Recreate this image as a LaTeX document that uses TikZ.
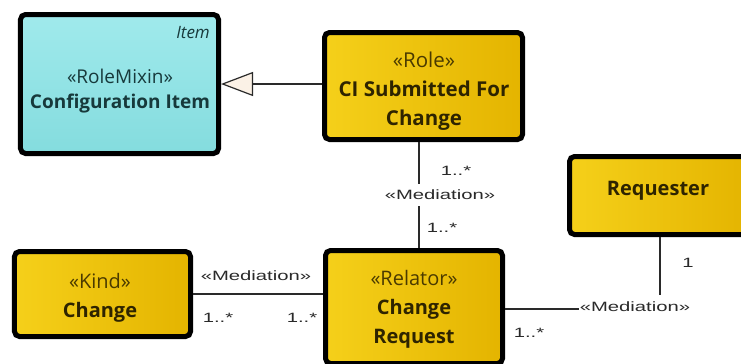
\documentclass[tikz,border=0pt]{standalone}
\usepackage{fontspec}
\setmainfont{Open Sans}
\newfontfamily\lblfont[FakeStretch=1.5]{Liberation Sans}
\usetikzlibrary{arrows.meta,shadows}

\definecolor{yelA}{HTML}{F5D01A}
\definecolor{yelB}{HTML}{E4B400}
\definecolor{cyaA}{HTML}{A0EAEC}
\definecolor{cyaB}{HTML}{84DCDE}
\definecolor{ytext}{HTML}{2E2400}
\definecolor{ystereo}{HTML}{4A3A00}
\definecolor{ctext}{HTML}{17393B}
\definecolor{genfill}{HTML}{FBF1E6}
\definecolor{wire}{HTML}{2A2A2A}

\tikzset{
  umlbox/.style={draw=black, line width=5bp, rounded corners=5bp, inner sep=0pt,
    drop shadow={shadow xshift=2bp, shadow yshift=-2bp, opacity=0.25}},
  yellowbox/.style={umlbox, left color=yelA, right color=yelB},
  cyanbox/.style={umlbox, top color=cyaA, bottom color=cyaB},
  boxtext/.style={align=center, inner sep=0pt, text=ytext,
    font=\fontsize{20bp}{29bp}\selectfont},
  conn/.style={draw=wire, line width=1.2bp},
  lbl/.style={inner sep=1bp, text=wire, font=\lblfont\fontsize{13.5bp}{15bp}\selectfont},
}

\newcommand{\stereo}[1]{{\color{ystereo}\guillemotleft#1\guillemotright}}

\begin{document}
\begin{tikzpicture}[x=1bp,y=-1bp]
  \useasboundingbox[fill=white] (0,0) rectangle (741,363);

  % classes
  \node[cyanbox, minimum width=198bp, minimum height=139bp] (cfg) at (119.5,84) {};
  \node[yellowbox, minimum width=198bp, minimum height=107bp] (role) at (423.5,86) {};
  \node[yellowbox, minimum width=180bp, minimum height=78bp] (req) at (659.5,195.5) {};
  \node[yellowbox, minimum width=176bp, minimum height=85bp] (kind) at (102.5,294) {};
  \node[yellowbox, minimum width=177bp, minimum height=113bp] (rel) at (414,307) {};

  % class texts
  \node[boxtext, text=ctext, anchor=east, font=\itshape\fontsize{17bp}{20bp}\selectfont] (cfgitem) at (210,33) {Item};
  \node[boxtext, text=ctext, font=\fontsize{19bp}{25bp}\selectfont] (cfgtxt) at (120,91)
    {{\color{ctext}\guillemotleft RoleMixin\guillemotright}\\\textbf{Configuration Item}};
  \node[boxtext, font=\fontsize{20.5bp}{29bp}\selectfont] (roletxt) at (424,91) {\stereo{Role}\\\textbf{CI Submitted For}\\\textbf{Change}};
  \node[boxtext] (reqtxt) at (658,191) {\textbf{Requester}};
  \node[boxtext] (kindtxt) at (100,298) {\stereo{Kind}\\\textbf{Change}};
  \node[boxtext] (reltxt) at (414,309) {\stereo{Relator}\\\textbf{Change}\\\textbf{Request}};

  % generalization
  \draw[conn, -{Triangle[length=32bp, width=24bp, fill=genfill]}] (role.west |- cfg.east) -- (cfg.east);

  % role -- relator
  \coordinate (vx) at (419,0);
  \draw[conn] (role.south -| vx) -- (rel.north -| vx);
  \node[lbl] (m1a) at (456,171) {1..*};
  \node[lbl, fill=white, inner ysep=6bp] (m1) at (440,195) {\guillemotleft Mediation\guillemotright};
  \node[lbl] (m1b) at (442,228) {1..*};

  % kind -- relator
  \draw[conn] (kind.east) -- (kind.east -| rel.west);
  \node[lbl] (m2) at (256,276) {\guillemotleft Mediation\guillemotright};
  \node[lbl] (m2a) at (218,318) {1..*};
  \node[lbl] (m2b) at (302,318) {1..*};

  % relator -- requester
  \coordinate (corner) at (660,309);
  \draw[conn] (rel.east |- corner) -- (corner) -- (req.south -| corner);
  \node[lbl, fill=white, inner ysep=7bp] (m3) at (635,307) {\guillemotleft Mediation\guillemotright};
  \node[lbl] (m3a) at (688,263) {1};
  \node[lbl] (m3b) at (529,333) {1..*};
\end{tikzpicture}
\end{document}
